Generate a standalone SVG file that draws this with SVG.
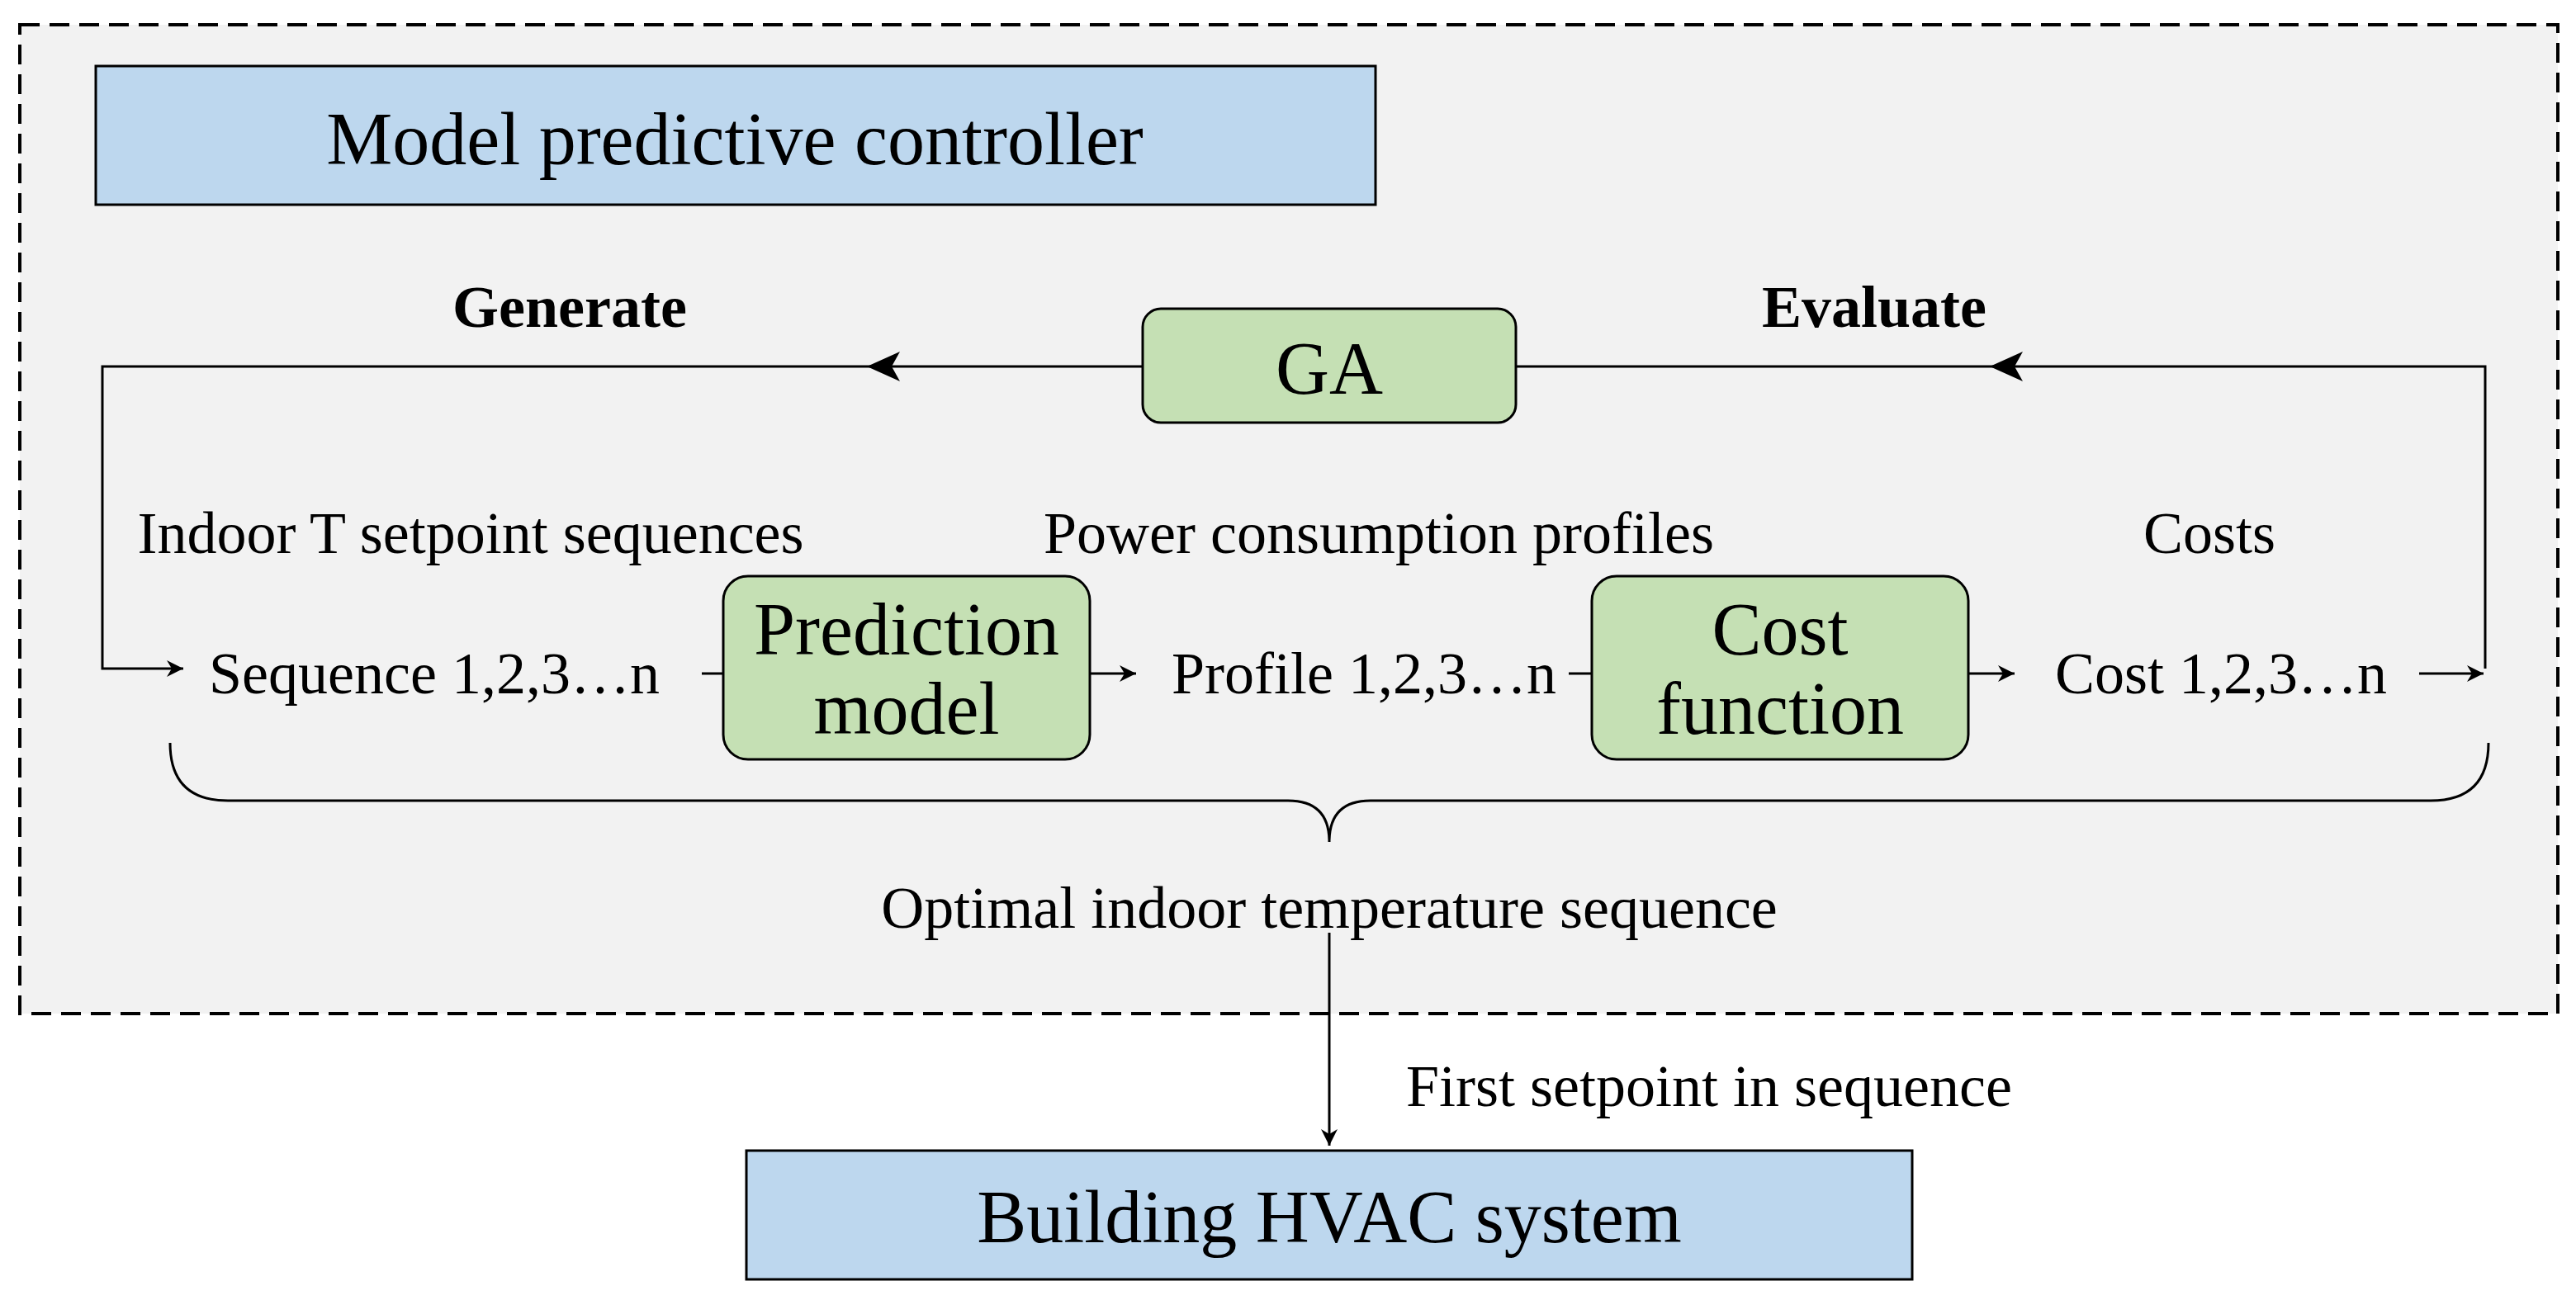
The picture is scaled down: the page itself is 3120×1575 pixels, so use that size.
<svg xmlns="http://www.w3.org/2000/svg" width="3120" height="1575" viewBox="0 0 3120 1575">
<defs>
<marker id="ah" viewBox="0 0 10 10" refX="10" refY="5" markerWidth="20" markerHeight="20" markerUnits="userSpaceOnUse" orient="auto"><path d="M0,0 L10,5 L0,10 L3,5 Z" fill="#000"/></marker>
<style>
text{font-family:"Liberation Serif",serif;fill:#000;text-anchor:middle;dominant-baseline:central}
.t{font-size:72px}
.b{font-size:90px}
.blue{fill:#bdd7ee;stroke:#000;stroke-width:3}
.green{fill:#c5e0b4;stroke:#000;stroke-width:3}
.ln{fill:none;stroke:#000;stroke-width:3}
</style>
</defs>
<rect width="3120" height="1575" fill="#fff"/>
<g id="frame"><rect x="24" y="30" width="3074" height="1198" fill="#f2f2f2" stroke="#000" stroke-width="4" stroke-dasharray="24,12"/></g>
<g id="mpc"><rect class="blue" x="116" y="80" width="1550" height="168"/><text class="b" x="890" y="168">Model predictive controller</text></g>
<g id="connectors">
<path class="ln" d="M1384,444 H124 V810 H222" marker-end="url(#ah)"/>
<path class="ln" d="M1836,444 H3010 V810"/>
<line class="ln" x1="850" y1="816" x2="876" y2="816"/>
<line class="ln" x1="1320" y1="816" x2="1376" y2="816" marker-end="url(#ah)"/>
<line class="ln" x1="1900" y1="816" x2="1928" y2="816"/>
<line class="ln" x1="2384" y1="816" x2="2440" y2="816" marker-end="url(#ah)"/>
<line class="ln" x1="2930" y1="816" x2="3008" y2="816" marker-end="url(#ah)"/>
<path class="ln" d="M206,900 Q206,970 276,970 H1560 Q1610,970 1610,1020 Q1610,970 1660,970 H2944 Q3014,970 3014,900"/>
<line class="ln" x1="1610" y1="1130" x2="1610" y2="1388" marker-end="url(#ah)"/>
<path d="M1050,444 L1090,426 L1080,444 L1090,462 Z" fill="#000"/>
<path d="M2410,444 L2450,426 L2440,444 L2450,462 Z" fill="#000"/>
</g>
<g id="ga"><rect class="green" x="1384" y="374" width="452" height="138" rx="22"/><text class="b" x="1610" y="446">GA</text></g>
<g id="labels">
<text class="t" x="690" y="372" font-weight="bold">Generate</text>
<text class="t" x="2270" y="372" font-weight="bold">Evaluate</text>
<text class="t" x="570" y="646">Indoor T setpoint sequences</text>
<text class="t" x="1670" y="646">Power  consumption profiles</text>
<text class="t" x="2676" y="646">Costs</text>
<text class="t" x="526" y="816">Sequence 1,2,3…n</text>
<text class="t" x="1652" y="816">Profile 1,2,3…n</text>
<text class="t" x="2690" y="816">Cost 1,2,3…n</text>
<text class="t" x="1610" y="1100">Optimal indoor temperature sequence</text>
<text class="t" x="2070" y="1316">First setpoint in sequence</text>
</g>
<g id="pred"><rect class="green" x="876" y="698" width="444" height="222" rx="30"/><text class="b" x="1098" y="762">Prediction</text><text class="b" x="1098" y="858">model</text></g>
<g id="cost"><rect class="green" x="1928" y="698" width="456" height="222" rx="30"/><text class="b" x="2156" y="762">Cost</text><text class="b" x="2156" y="858">function</text></g>
<g id="hvac"><rect class="blue" x="904" y="1394" width="1412" height="156"/><text class="b" x="1610" y="1474">Building HVAC system</text></g>
</svg>
